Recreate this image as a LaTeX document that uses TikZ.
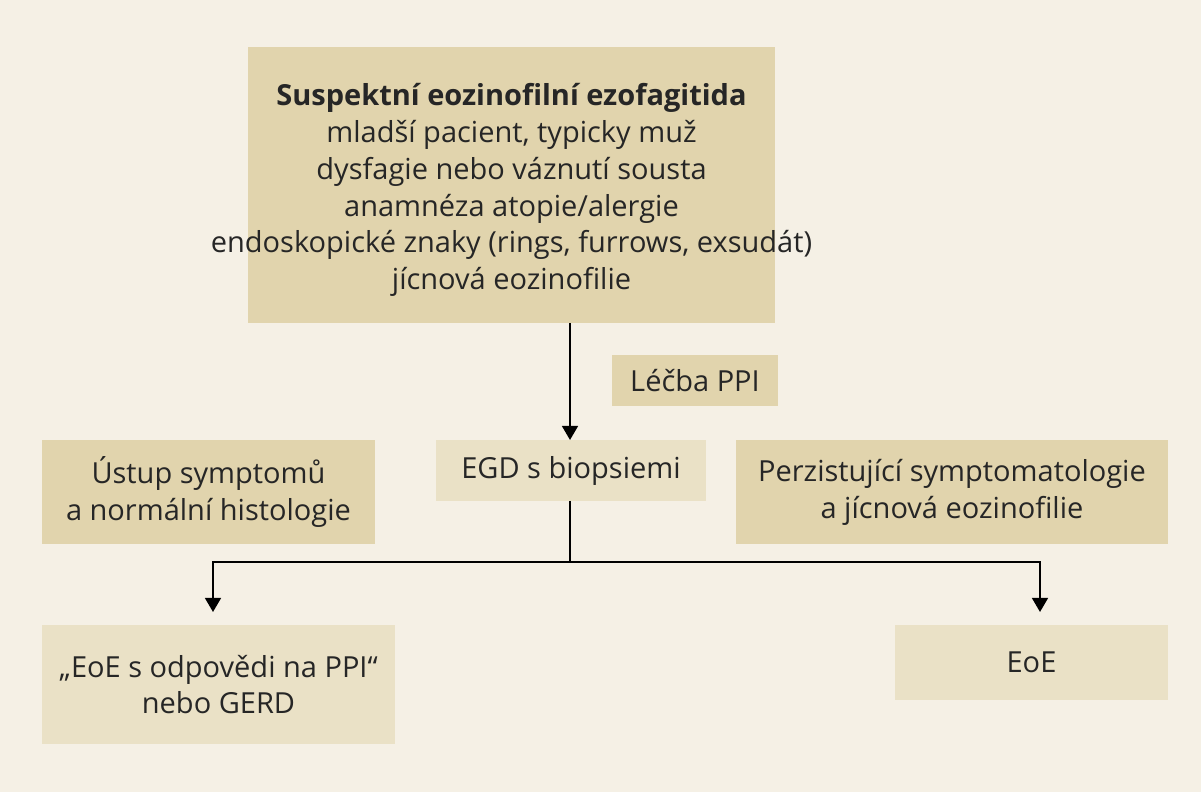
\documentclass[tikz,border=0pt]{standalone}
\usepackage{fontspec}
\setmainfont{Open Sans}
\usetikzlibrary{arrows.meta}
\definecolor{bgc}{HTML}{F5F0E5}
\definecolor{dark}{HTML}{E1D4AD}
\definecolor{light}{HTML}{EAE1C6}
\tikzset{box/.style={inner sep=0pt,align=center,font=\fontsize{16.5}{21}\selectfont,text=black!85},
arr/.style={-{Triangle[length=8pt,width=9pt]},line width=1.2pt}}
\begin{document}
\begin{tikzpicture}[x=0.02cm,y=-0.02cm]
\fill[white] (0,0) rectangle (1201,800);
\fill[bgc] (0,0) rectangle (1201,792);
\fill[dark] (248,47) rectangle (775,323);
\fill[dark] (612,355) rectangle (778,406);
\fill[light] (436,440) rectangle (706,501);
\fill[dark] (42,440) rectangle (375,544);
\fill[dark] (736,440) rectangle (1168,544);
\fill[light] (42,625) rectangle (395,744);
\fill[light] (895,625) rectangle (1168,700);
\node[box] (top) at (511.5,190) {\textbf{Suspektní eozinofilní ezofagitida}\\mladší pacient, typicky muž\\dysfagie nebo váznutí sousta\\anamnéza atopie/alergie\\endoskopické znaky (rings, furrows, exsudát)\\jícnová eozinofilie};
\node[box] (ppi) at (695,380.5) {Léčba PPI};
\node[box] (egd) at (571,470.5) {EGD s biopsiemi};
\node[box] (ust) at (208.5,492) {Ústup symptomů\\a normální histologie};
\node[box] (per) at (952,492) {Perzistující symptomatologie\\a jícnová eozinofilie};
\node[box] (gerd) at (218.5,684.5) {„EoE s odpovědi na PPI“\\nebo GERD};
\node[box] (eoe) at (1031.5,662.5) {EoE};
\coordinate (t) at (570,323);
\coordinate (e1) at (570,440);
\coordinate (e2) at (570,501);
\coordinate (j) at (570,562);
\coordinate (l) at (213,562);
\coordinate (r) at (1040,562);
\coordinate (la) at (213,612);
\coordinate (ra) at (1040,612);
\draw[arr] (t) -- (e1);
\draw[line width=1.2pt] (e2) -- (j);
\draw[arr] (j) -- (l) -- (la);
\draw[arr] (j) -- (r) -- (ra);
\end{tikzpicture}
\end{document}
